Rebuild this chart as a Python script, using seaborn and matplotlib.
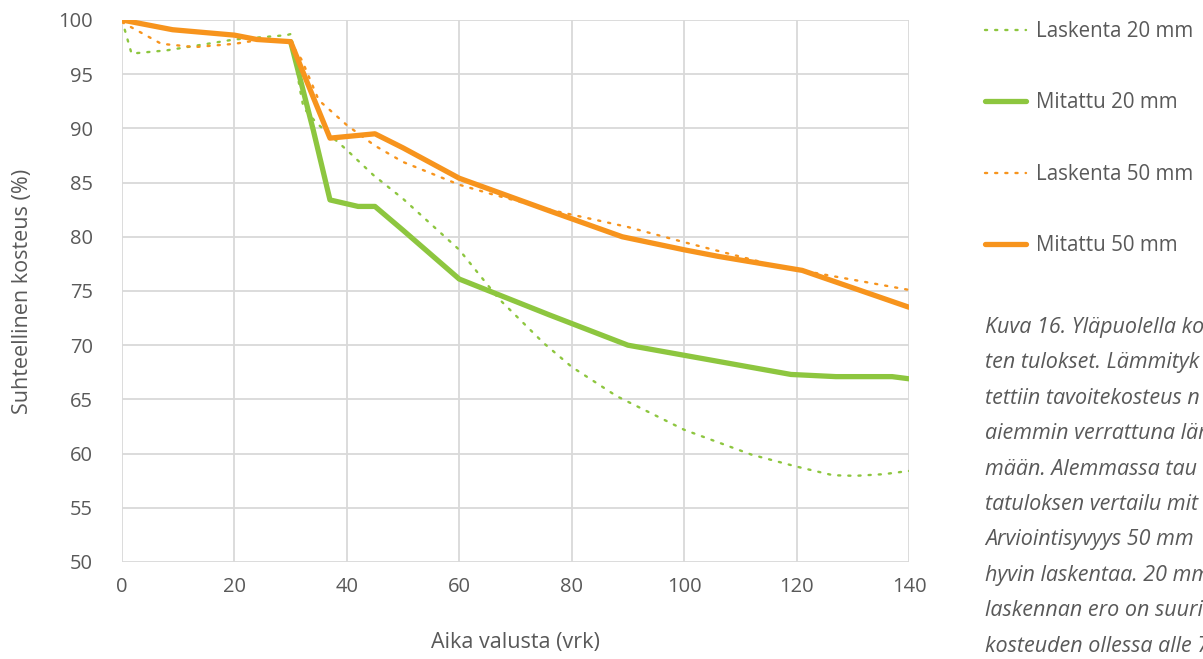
import pandas as pd
import matplotlib.pyplot as plt
import seaborn as sns

sns.set_theme(style="white")
plt.rcParams["font.family"] = ["Open Sans", "DejaVu Sans"]

# Data
las20_x = [0, 1.7, 8, 20, 29.3, 30, 31.7, 32.3, 34.6, 40, 44.7, 50, 60, 67, 75, 80, 88, 100, 112, 120, 126.5, 130.5, 135.5, 140]
las20_y = [100, 96.9, 97.2, 98.2, 98.6, 98.7, 93.5, 91.9, 90.5, 88.0, 85.7, 83.5, 78.8, 74.3, 70.2, 68.0, 65.3, 62.2, 59.9, 58.8, 58.0, 57.95, 58.1, 58.4]

mit20_x = [30, 34, 37, 42, 45, 50, 60, 76, 90, 119, 127, 137, 140]
mit20_y = [98.0, 89.9, 83.4, 82.8, 82.8, 80.6, 76.1, 72.8, 70.0, 67.3, 67.1, 67.1, 66.9]

las50_x = [0, 7, 13, 20, 25, 30, 32, 35, 40, 45, 50, 60, 66, 76, 90, 100, 115, 124, 140]
las50_y = [99.8, 97.8, 97.5, 97.8, 98.2, 97.9, 96.3, 92.6, 90.3, 88.4, 86.9, 84.8, 83.9, 82.5, 80.9, 79.5, 77.5, 76.6, 75.1]

mit50_x = [0, 9, 20, 24, 30, 34, 37, 45, 50, 60, 76, 89, 100, 106, 121, 140]
mit50_y = [100, 99.1, 98.6, 98.2, 98.0, 92.9, 89.1, 89.5, 88.2, 85.4, 82.4, 80.0, 78.8, 78.2, 76.9, 73.5]

labels = ["Laskenta 20 mm", "Mitattu 20 mm", "Laskenta 50 mm", "Mitattu 50 mm"]

# caption is cropped at the right edge in the source figure
caption = [
    "Kuva 16. Yläpuolella ko",
    "ten tulokset. Lämmityk",
    "tettiin tavoitekosteus n",
    "aiemmin verrattuna läm",
    "mään. Alemmassa tau",
    "tatuloksen vertailu mit",
    "Arviointisyvyys 50 mm",
    "hyvin laskentaa. 20 mm",
    "laskennan ero on suurin",
    "kosteuden ollessa alle 7",
]

green = "#8dc63f"
orange = "#f7941d"
grey = "#595959"
dots = (0, (0.9, 3.4))

series = [
    (las20_x, las20_y, green, 1.7, dots),
    (mit20_x, mit20_y, green, 3.8, "-"),
    (las50_x, las50_y, orange, 1.7, dots),
    (mit50_x, mit50_y, orange, 3.8, "-"),
]

fig = plt.figure(figsize=(12.03, 6.59), dpi=100)
ax = fig.add_axes([0.1014, 0.1472, 0.6542, 0.8225])

for (xs, ys, col, lw, ls), lab in zip(series, labels):
    df = pd.DataFrame({"x": xs, "y": ys})
    sns.lineplot(data=df, x="x", y="y", ax=ax, color=col, linewidth=lw,
                 linestyle=ls, label=lab, sort=False, estimator=None,
                 solid_capstyle="round", dash_capstyle="round")

ax.set_xlim(0, 140)
ax.set_ylim(50, 100)
ax.set_xticks(range(0, 141, 20))
ax.set_yticks(range(50, 101, 5))
ax.grid(True, color="#d9d9d9", linewidth=1.3)
ax.set_axisbelow(True)
for s in ax.spines.values():
    s.set_visible(False)
ax.tick_params(axis="both", length=0, labelsize=14.5, colors=grey)
ax.tick_params(axis="x", pad=11)
ax.tick_params(axis="y", pad=21)
ax.set_xlabel("Aika valusta (vrk)", fontsize=15.5, color=grey, labelpad=25)
ax.set_ylabel("Suhteellinen kosteus (%)", fontsize=15.5, color=grey, labelpad=18)

handles, labs = ax.get_legend_handles_labels()
ax.get_legend().remove()
fig.legend(handles, labs, loc="upper left", bbox_to_anchor=(0.807, 0.99),
           frameon=False, fontsize=14.8, labelcolor=grey, handlelength=2.0,
           handletextpad=0.45, labelspacing=2.45, borderaxespad=0.3)

fig.text(0.819, 0.519, "\n".join(caption), fontsize=15.5, style="italic",
         color=grey, va="top", ha="left", linespacing=1.9)

plt.savefig("out.png", dpi=100)
